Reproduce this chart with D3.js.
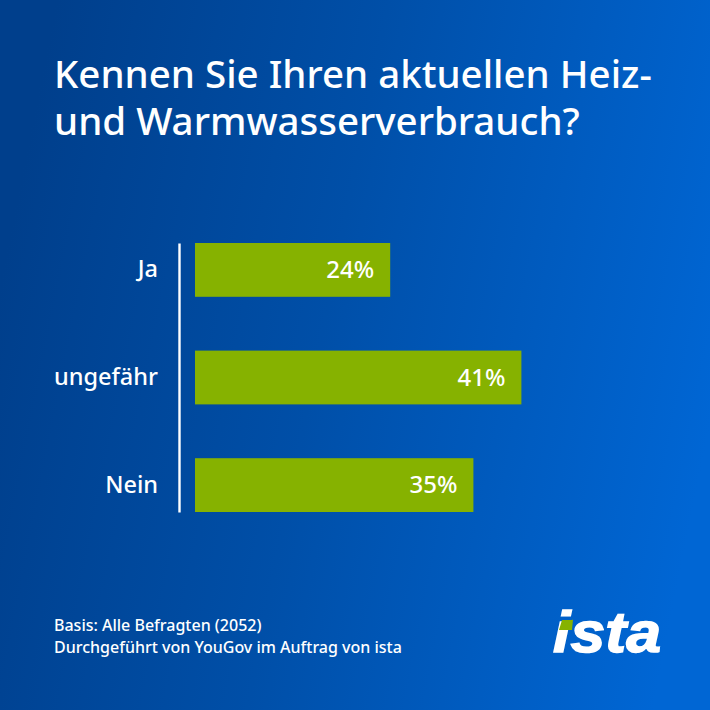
<!DOCTYPE html>
<html>
<head>
<meta charset="utf-8">
<script src="https://cdn.jsdelivr.net/npm/d3@7"></script>
<style>
  html, body { margin: 0; padding: 0; }
  svg { display: block; }
  text { font-family: "Noto Sans", "Open Sans", sans-serif; fill: #fff; }
</style>
</head>
<body>
<svg id="chart"></svg>
<script>
const categories = ["Ja", "ungefähr", "Nein"]
const values = [24.4, 40.8, 34.8]
const titleLines = ["Kennen Sie Ihren aktuellen Heiz-", "und Warmwasserverbrauch?"]
const footnotes = ["Basis: Alle Befragten (2052)", "Durchgeführt von YouGov im Auftrag von ista"]

const width = 710
const height = 710

const svg = d3.select("#chart")
  .attr("width", width)
  .attr("height", height)
  .attr("viewBox", `0 0 ${width} ${height}`)

// background
const grad = svg.append("defs").append("linearGradient")
  .attr("id", "bg")
  .attr("x1", "0%").attr("y1", "40%")
  .attr("x2", "100%").attr("y2", "60%")
grad.append("stop").attr("offset", "0%").attr("stop-color", "#003f8c")
grad.append("stop").attr("offset", "45%").attr("stop-color", "#004fa8")
grad.append("stop").attr("offset", "100%").attr("stop-color", "#0066d4")

svg.append("rect")
  .attr("width", width)
  .attr("height", height)
  .attr("fill", "url(#bg)")

// title
svg.append("text")
  .attr("font-size", 38.5)
  .attr("font-weight", 500)
  .selectAll("tspan")
  .data(titleLines)
  .join("tspan")
  .attr("x", 54)
  .attr("y", (d, i) => 88 + i * 47)
  .text(d => d)

// scales
const x = d3.scaleLinear().domain([0, 100]).range([195, 995])
const y = d3.scaleBand().domain(categories).range([243, 512]).paddingInner(0.5).paddingOuter(0)

const bars = svg.append("g")

bars.selectAll("rect")
  .data(values)
  .join("rect")
  .attr("x", x(0))
  .attr("y", (d, i) => y(categories[i]))
  .attr("width", d => x(d) - x(0))
  .attr("height", y.bandwidth())
  .attr("fill", "#86b200")

bars.selectAll("text")
  .data(values)
  .join("text")
  .attr("x", d => x(d) - 16)
  .attr("y", (d, i) => y(categories[i]) + y.bandwidth() / 2 + 8)
  .attr("text-anchor", "end")
  .attr("font-size", 24)
  .attr("font-weight", 500)
  .text(d => d3.format(".0f")(d) + "%")

// category axis
const axis = svg.append("g")
  .attr("transform", "translate(179,0)")
  .call(d3.axisLeft(y).tickSize(0).tickPadding(21))

axis.select(".domain")
  .attr("stroke", "#fff")
  .attr("stroke-width", 2.4)
axis.selectAll("text")
  .attr("font-size", 23.5)
  .attr("font-weight", 500)
  .attr("font-family", null)
  .attr("fill", "#fff")

// footnote
svg.selectAll(".foot")
  .data(footnotes)
  .join("text")
  .attr("class", "foot")
  .attr("x", 54)
  .attr("y", (d, i) => 631 + i * 22)
  .attr("font-size", 16)
  .attr("font-weight", 500)
  .text(d => d)

// logo
const logo = svg.append("g")
logo.append("text")
  .attr("x", 553)
  .attr("y", 652)
  .attr("font-size", 58)
  .attr("font-weight", 700)
  .attr("font-style", "italic")
  .style("font-family", "'Liberation Sans', sans-serif")
  .style("stroke", "#fff")
  .style("stroke-width", 1.5)
  .attr("textLength", 108)
  .attr("lengthAdjust", "spacingAndGlyphs")
  .text("ista")
logo.append("path")
  .attr("d", "M562 620 L572 620 L573 619.5 L572 630 L559 630 Z")
  .attr("fill", "#86b200")
</script>
</body>
</html>
